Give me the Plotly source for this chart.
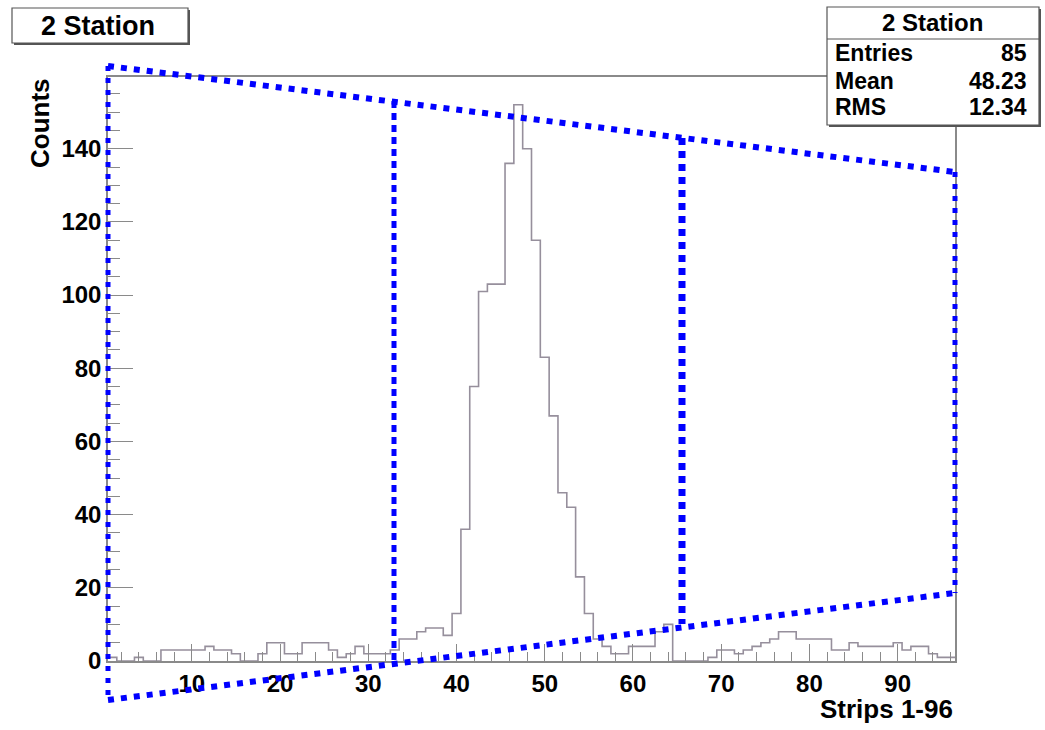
import numpy as np
import plotly.graph_objects as go

# ---- data ----
strips = list(range(1, 97))
counts = [1, 0, 0, 1, 0, 0, 3, 3, 3, 3, 3, 4, 3, 3, 2, 0, 0, 2, 5, 5,
          2, 2, 5, 5, 5, 3, 1, 2, 4, 2, 2, 2, 3, 6, 6, 8, 9, 9, 7, 13,
          36, 75, 101, 103, 103, 136, 152, 140, 115, 83, 67, 46, 42, 23, 13, 6, 4, 2, 2, 4,
          4, 4, 8, 10, 0, 0, 0, 0, 1, 3, 3, 2, 3, 4, 5, 6, 8, 8, 6, 6,
          6, 6, 3, 3, 5, 4, 4, 4, 4, 5, 3, 4, 4, 2, 1, 1]
x_ticks = [10, 20, 30, 40, 50, 60, 70, 80, 90]
y_ticks = [0, 20, 40, 60, 80, 100, 120, 140]
title_text = "2 Station"
stats_labels = ["Entries", "Mean", "RMS"]
stats_values = ["85", "48.23", "12.34"]
x_title = "Strips 1-96"
y_title = "Counts"

# ---- layout geometry ----
W, H = 1045, 730
L, R, T, B = 108, 955, 77, 661


def px(xp):
    return (xp - L) / (R - L)


def py(yp):
    return (B - yp) / (B - T)


centers = np.array(strips, dtype=float)
edges = np.concatenate([centers - 0.5, [centers[-1] + 0.5]])
yvals = np.concatenate([counts, [counts[-1]]])

FONT = "Liberation Sans, Arial, sans-serif"
GRAY = "#8a8a8a"

fig = go.Figure()
fig.add_trace(go.Scatter(
    x=edges, y=yvals, mode="lines", line=dict(shape="hv", color="#968f9c", width=1.6),
    hoverinfo="skip", showlegend=False))

ymax = max(counts) * 1.05

axis_font = dict(family=FONT, size=24, color="black", weight="bold")
fig.update_xaxes(range=[0.5, 96.5], tickmode="array", tickvals=x_ticks,
                 ticks="inside", ticklen=17, tickcolor=GRAY, tickwidth=1.3,
                 minor=dict(dtick=2, tick0=0, ticks="inside", ticklen=9, tickcolor=GRAY, tickwidth=1.3),
                 showline=True, linecolor=GRAY, linewidth=1.5, mirror=True,
                 showgrid=False, zeroline=False, tickfont=axis_font)
fig.update_yaxes(range=[0, ymax], tickmode="array", tickvals=y_ticks,
                 ticks="inside", ticklen=25, tickcolor=GRAY, tickwidth=1.3,
                 minor=dict(dtick=5, tick0=0, ticks="inside", ticklen=12, tickcolor=GRAY, tickwidth=1.3),
                 showline=True, linecolor=GRAY, linewidth=1.5, mirror=True,
                 showgrid=False, zeroline=False, tickfont=axis_font)

shapes = []
annotations = []

# blue dotted overlay
BLUE = "#0000ff"
def bline(x0, y0, x1, y1, w=5, dash="5px,7px"):
    shapes.append(dict(type="line", xref="paper", yref="paper",
                       x0=px(x0), y0=py(y0), x1=px(x1), y1=py(y1),
                       line=dict(color=BLUE, width=w, dash=dash), layer="above"))

bline(108, 66, 955, 172, w=6, dash="6px,7px")
bline(108, 66, 108, 700, w=5, dash="5px,7px")
bline(108, 700, 955, 593, w=6, dash="6px,7px")
bline(955, 172, 955, 593, w=5, dash="5px,7px")
bline(394, 101, 394, 660, w=5, dash="7px,5px")
bline(682, 138, 682, 624, w=7, dash="7px,6px")

# title box
def box(x0, y0, x1, y1):
    shapes.append(dict(type="rect", xref="paper", yref="paper",
                       x0=px(x0 + 2), y0=py(y1 + 2), x1=px(x1 + 2), y1=py(y0 + 2),
                       line=dict(width=0), fillcolor="#555555", layer="above"))
    shapes.append(dict(type="rect", xref="paper", yref="paper",
                       x0=px(x0), y0=py(y1), x1=px(x1), y1=py(y0),
                       line=dict(color="#555555", width=1.2), fillcolor="white", layer="above"))

box(12, 8, 188, 43)
annotations.append(dict(xref="paper", yref="paper", x=px(98), y=py(26), text=title_text,
                        showarrow=False, xanchor="center", yanchor="middle",
                        font=dict(family=FONT, size=27, color="black", weight="bold")))

# stats box
box(827, 7, 1039, 125)
shapes.append(dict(type="line", xref="paper", yref="paper", x0=px(827), x1=px(1039),
                   y0=py(39), y1=py(39), line=dict(color="#555555", width=1.2), layer="above"))
annotations.append(dict(xref="paper", yref="paper", x=px(932), y=py(23), text=title_text,
                        showarrow=False, xanchor="center", yanchor="middle",
                        font=dict(family=FONT, size=24, color="black", weight="bold")))
for i, (lab, val) in enumerate(zip(stats_labels, stats_values)):
    yy = [53, 81, 107][i]
    annotations.append(dict(xref="paper", yref="paper", x=px(833), y=py(yy), text=lab,
                            showarrow=False, xanchor="left", yanchor="middle",
                            font=dict(family=FONT, size=23, color="black", weight="bold")))
    annotations.append(dict(xref="paper", yref="paper", x=px(1029), y=py(yy), text=val,
                            showarrow=False, xanchor="right", yanchor="middle",
                            font=dict(family=FONT, size=23, color="black", weight="bold")))

# axis titles
annotations.append(dict(xref="paper", yref="paper", x=px(955), y=py(709), text=x_title,
                        showarrow=False, xanchor="right", yanchor="middle",
                        font=dict(family=FONT, size=26, color="black", weight="bold")))
annotations.append(dict(xref="paper", yref="paper", x=px(40), y=py(123), text=y_title,
                        showarrow=False, xanchor="center", yanchor="middle", textangle=-90,
                        font=dict(family=FONT, size=26, color="black", weight="bold")))

fig.update_layout(width=W, height=H, margin=dict(l=L, r=W - R, t=T, b=H - B),
                  paper_bgcolor="white", plot_bgcolor="white",
                  shapes=shapes, annotations=annotations, hovermode=False)

fig.write_html("out.html")
